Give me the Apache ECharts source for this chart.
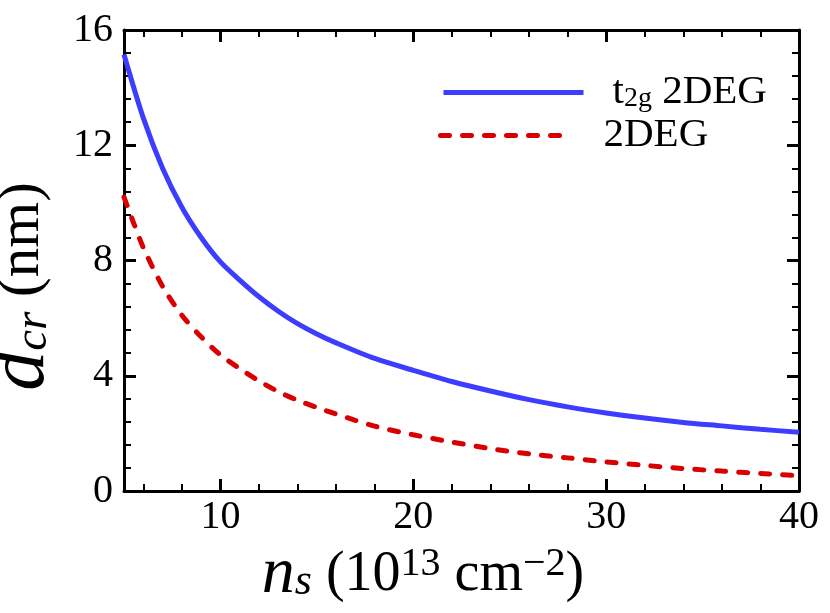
<!DOCTYPE html>
<html lang="en">
<head>
    <meta charset="UTF-8">
    <script src="https://cdn.jsdelivr.net/npm/echarts@6/dist/echarts.min.js"></script>
    <title>d_cr vs n_s</title>
    <style>
        html, body { margin: 0; padding: 0; background: #fff; }
        #chart { width: 830px; height: 613px; }
    </style>
</head>
<body>
<div id="chart"></div>
<script>
    // 读图得到的数据
    const nsBlue = [5, 6, 7, 8, 9, 10, 11, 12, 13, 14, 15, 16, 18, 20, 22, 24, 26, 28, 30, 32, 34, 36, 38, 40];
    const dBlue = [15.15, 12.95, 11.2, 9.85, 8.8, 7.95, 7.32, 6.74, 6.24, 5.81, 5.45, 5.14, 4.6, 4.19, 3.8, 3.47, 3.17, 2.92, 2.71, 2.53, 2.38, 2.26, 2.14, 2.04];
    const nsRed = [5, 5.5, 6, 7, 8, 9, 10, 11, 12, 13, 14, 15, 16, 18, 20, 22, 24, 26, 28, 30, 32, 34, 36, 38, 40];
    const dRed = [10.2, 9.3, 8.45, 7.1, 6.1, 5.35, 4.72, 4.25, 3.82, 3.45, 3.15, 2.9, 2.67, 2.25, 1.95, 1.7, 1.47, 1.29, 1.15, 1.01, 0.89, 0.78, 0.69, 0.61, 0.53];
    const xMajor = [10, 20, 30, 40];
    const xMinor = [6, 8, 12, 14, 16, 18, 22, 24, 26, 28, 32, 34, 36, 38];

    const serif = "'Liberation Serif', 'Times New Roman', serif";
    const black = '#000';
    const blue = '#3d3dff';
    const red = '#d80000';

    // x 轴：主刻度 / 次刻度分开画
    function xAxisDef(pos, minor) {
        return {
            type: 'value', position: pos, min: 5, max: 40,
            axisLine: { show: !minor, onZero: false, lineStyle: { color: black, width: 3 } },
            axisTick: {
                show: true, inside: true, customValues: minor ? xMinor : xMajor,
                length: minor ? 7 : 12, lineStyle: { color: black, width: minor ? 2 : 3 }
            },
            axisLabel: pos === 'bottom' && !minor ? {
                show: true, customValues: xMajor, margin: 6,
                color: black, fontFamily: serif, fontSize: 40
            } : { show: false },
            splitLine: { show: false }
        };
    }

    function yAxisDef(pos) {
        return {
            type: 'value', position: pos, min: 0, max: 16, interval: 4,
            axisLine: { show: true, onZero: false, lineStyle: { color: black, width: 3 } },
            axisTick: { inside: true, length: 12, lineStyle: { color: black, width: 3 } },
            minorTick: { show: true, splitNumber: 5, length: 7, lineStyle: { color: black, width: 2 } },
            axisLabel: pos === 'left' ? {
                color: black, fontFamily: serif, fontSize: 40, margin: 11
            } : { show: false },
            splitLine: { show: false }
        };
    }

    const xBottom = xAxisDef('bottom', false);
    xBottom.name = '{i|n}{is|s}{t| (10}{sup|13}{t| cm}{sup|\u22122}{t|)}';
    xBottom.nameLocation = 'middle';
    xBottom.nameGap = 44;
    xBottom.nameTextStyle = {
        color: black, fontFamily: serif, padding: [0, 77, 0, 0],
        rich: {
            i: { fontSize: 66, fontStyle: 'italic', fontFamily: serif, lineHeight: 60 },
            is: { fontSize: 44, fontStyle: 'italic', fontFamily: serif, verticalAlign: 'bottom', lineHeight: 40 },
            t: { fontSize: 56, fontFamily: serif, lineHeight: 60 },
            sup: { fontSize: 40, fontFamily: serif, verticalAlign: 'top', lineHeight: 34 }
        }
    };

    const yLeft = yAxisDef('left');
    yLeft.name = '{d|d}{ds|cr}{t| (nm)}';
    yLeft.nameLocation = 'middle';
    yLeft.nameGap = 36;
    yLeft.nameTextStyle = {
        color: black, fontFamily: serif, padding: [0, 52, 0, 0],
        rich: {
            d: { fontSize: 80, fontStyle: 'italic', fontFamily: serif, lineHeight: 70 },
            ds: { fontSize: 47, fontStyle: 'italic', fontFamily: serif, verticalAlign: 'bottom', lineHeight: 46 },
            t: { fontSize: 59, fontFamily: serif, lineHeight: 70 }
        }
    };

    const chart = echarts.init(document.getElementById('chart'));
    chart.setOption({
        animation: false,
        backgroundColor: '#fff',
        grid: { left: 124, right: 31, top: 30, bottom: 122, containLabel: false, outerBoundsMode: 'none' },
        legend: [
            {
                data: ['t2g 2DEG'], left: 436, top: 67, orient: 'vertical',
                itemWidth: 140, itemHeight: 14, selectedMode: false,
                itemStyle: { opacity: 0, borderWidth: 0 },
                lineStyle: { color: blue, width: 5 },
                formatter: () => '{a|t}{b|2g}{a| 2DEG}',
                textStyle: {
                    color: black, fontFamily: serif, padding: [0, 0, 0, 24],
                    rich: {
                        a: { fontSize: 41, fontFamily: serif, lineHeight: 40 },
                        b: { fontSize: 28, fontFamily: serif, verticalAlign: 'bottom', lineHeight: 30 }
                    }
                }
            },
            {
                data: ['2DEG'], left: 433, top: 110, orient: 'vertical',
                itemWidth: 132, itemHeight: 14, selectedMode: false,
                itemStyle: { opacity: 0, borderWidth: 0 },
                lineStyle: { color: red, width: 5, type: [9, 13], cap: 'round' },
                textStyle: { color: black, fontFamily: serif, fontSize: 41, padding: [0, 0, 0, 26] }
            }
        ],
        xAxis: [xBottom, xAxisDef('bottom', true), xAxisDef('top', false), xAxisDef('top', true)],
        yAxis: [yLeft, yAxisDef('right')],
        series: [
            {
                name: 't2g 2DEG', type: 'line', xAxisIndex: 0, yAxisIndex: 0,
                data: nsBlue.map((n, i) => [n, dBlue[i]]),
                smooth: 0.3, showSymbol: false, symbol: 'none',
                color: blue,
                lineStyle: { color: blue, width: 5 }
            },
            {
                name: '2DEG', type: 'line', xAxisIndex: 0, yAxisIndex: 0,
                data: nsRed.map((n, i) => [n, dRed[i]]),
                smooth: 0.3, showSymbol: false, symbol: 'none',
                color: red,
                lineStyle: { color: red, width: 5, type: [9, 13], cap: 'round' }
            }
        ]
    });
</script>
</body>
</html>
